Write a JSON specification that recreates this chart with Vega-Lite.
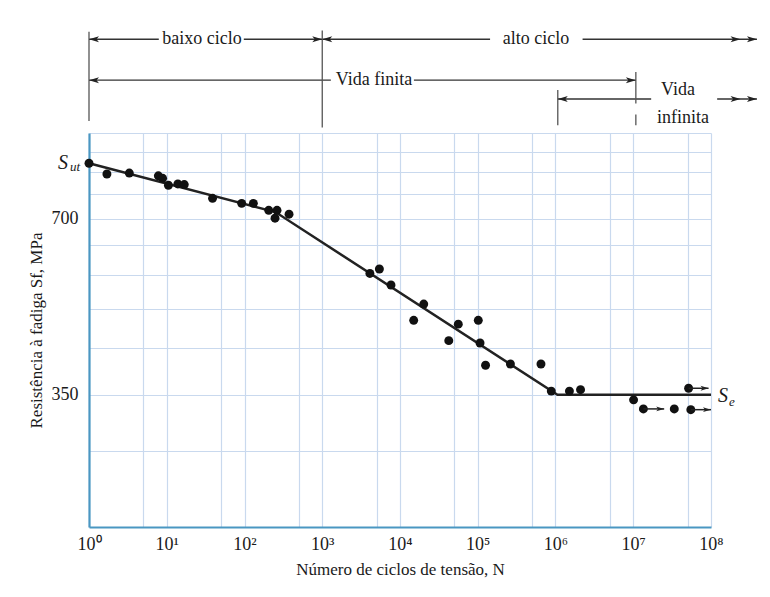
{
  "$schema": "https://vega.github.io/schema/vega-lite/v6.json",
  "padding": {"left": 27, "top": 24, "right": 5, "bottom": 5},
  "background": "white",
  "spacing": 0,
  "config": {"view": {"stroke": null}, "font": "Liberation Serif", "concat": {"spacing": 0}},
  "datasets": {
    "hsegs": [
      {"n1": 1, "n2": 7.9, "lvl": 1.4},
      {"n1": 98, "n2": 1000, "lvl": 1.4},
      {"n1": 1000, "n2": 144000, "lvl": 1.4},
      {"n1": 2230000, "n2": 390000000, "lvl": 1.4},
      {"n1": 1, "n2": 1290, "lvl": 5.15},
      {"n1": 15100, "n2": 10800000, "lvl": 5.15},
      {"n1": 1070000, "n2": 17000000, "lvl": 6.88},
      {"n1": 120000000, "n2": 390000000, "lvl": 6.88}
    ],
    "vsegs": [
      {"n": 1, "v1": 0.7, "v2": 8.9},
      {"n": 1000, "v1": 0.6, "v2": 9.5},
      {"n": 1070000, "v1": 6.06, "v2": 9.3},
      {"n": 10800000, "v1": 4.4, "v2": 7.3},
      {"n": 10800000, "v1": 8.3, "v2": 9.3}
    ],
    "heads": [
      {"n": 1, "lvl": 1.4, "dir": "L"},
      {"n": 1000, "lvl": 1.4, "dir": "L"},
      {"n": 1, "lvl": 5.15, "dir": "L"},
      {"n": 1070000, "lvl": 6.88, "dir": "L"},
      {"n": 1000, "lvl": 1.4, "dir": "R"},
      {"n": 240000000, "lvl": 1.4, "dir": "R"},
      {"n": 390000000, "lvl": 1.4, "dir": "R"},
      {"n": 10800000, "lvl": 5.15, "dir": "R"},
      {"n": 240000000, "lvl": 6.88, "dir": "R"},
      {"n": 390000000, "lvl": 6.88, "dir": "R"}
    ],
    "labels": [
      {"n": 28.4, "lvl": 1.4, "text": "baixo ciclo"},
      {"n": 560000, "lvl": 1.4, "text": "alto ciclo"},
      {"n": 4630, "lvl": 5.15, "text": "Vida finita"},
      {"n": 37700000, "lvl": 6.06, "text": "Vida"},
      {"n": 43700000, "lvl": 8.62, "text": "infinita"}
    ],
    "points": [
      {"N": 1, "S": 870}, {"N": 1.7, "S": 834}, {"N": 3.3, "S": 837}, {"N": 7.8, "S": 828},
      {"N": 8.85, "S": 820}, {"N": 10.5, "S": 798}, {"N": 13.9, "S": 802}, {"N": 16.8, "S": 800},
      {"N": 38.8, "S": 758}, {"N": 92, "S": 743}, {"N": 130, "S": 743}, {"N": 205, "S": 723},
      {"N": 262, "S": 723}, {"N": 247, "S": 701}, {"N": 374, "S": 712}, {"N": 4100, "S": 564},
      {"N": 5430, "S": 574}, {"N": 7660, "S": 539}, {"N": 20200, "S": 500}, {"N": 15000, "S": 469},
      {"N": 56200, "S": 462}, {"N": 101600, "S": 469}, {"N": 42400, "S": 433}, {"N": 107000, "S": 429},
      {"N": 126000, "S": 393}, {"N": 263000, "S": 395}, {"N": 650000, "S": 395}, {"N": 883000, "S": 355},
      {"N": 1510000, "S": 355}, {"N": 2100000, "S": 357}, {"N": 10100000, "S": 343}, {"N": 13500000, "S": 331},
      {"N": 33700000, "S": 331}, {"N": 55000000, "S": 330}, {"N": 51500000, "S": 359}
    ],
    "curve": [
      {"N": 1, "S": 870}, {"N": 250, "S": 718}, {"N": 1060000, "S": 350}, {"N": 100000000, "S": 350}
    ],
    "runout": [
      {"N": 13500000, "N2": 25000000, "S": 331},
      {"N": 55000000, "N2": 100000000, "S": 330},
      {"N": 51500000, "N2": 93000000, "S": 359}
    ],
    "symbols": [
      {"N": 1, "S": 870, "name": "ut"},
      {"N": 100000000, "S": 350, "name": "e"}
    ]
  },
  "vconcat": [
    {
      "width": 622,
      "height": 109,
      "encoding": {
        "x": {"type": "quantitative", "scale": {"type": "log", "domain": [1, 100000000], "nice": false}, "axis": null},
        "y": {"type": "quantitative", "scale": {"domain": [0, 10], "reverse": true, "nice": false, "zero": false}, "axis": null}
      },
      "layer": [
        {
          "data": {"name": "hsegs"},
          "mark": {"type": "rule", "color": "#333", "strokeWidth": 1.3},
          "encoding": {"x": {"field": "n1", "type": "quantitative"}, "x2": {"field": "n2"}, "y": {"field": "lvl", "type": "quantitative"}}
        },
        {
          "data": {"name": "vsegs"},
          "mark": {"type": "rule", "color": "#555", "strokeWidth": 1.3},
          "encoding": {"x": {"field": "n", "type": "quantitative"}, "y": {"field": "v1", "type": "quantitative"}, "y2": {"field": "v2"}}
        },
        {
          "data": {"name": "heads"},
          "transform": [{"filter": "datum.dir == 'L'"}],
          "mark": {"type": "point", "filled": true, "color": "#222", "opacity": 1, "size": 100, "shape": "M 0 0 L 2 -0.6 L 1.5 0 L 2 0.6 Z"},
          "encoding": {"x": {"field": "n", "type": "quantitative"}, "y": {"field": "lvl", "type": "quantitative"}}
        },
        {
          "data": {"name": "heads"},
          "transform": [{"filter": "datum.dir == 'R'"}],
          "mark": {"type": "point", "filled": true, "color": "#222", "opacity": 1, "size": 100, "shape": "M 0 0 L -2 -0.6 L -1.5 0 L -2 0.6 Z"},
          "encoding": {"x": {"field": "n", "type": "quantitative"}, "y": {"field": "lvl", "type": "quantitative"}}
        },
        {
          "data": {"name": "labels"},
          "mark": {"type": "text", "font": "Liberation Serif", "fontSize": 18, "color": "#1a1a1a", "align": "center", "baseline": "middle"},
          "encoding": {"x": {"field": "n", "type": "quantitative"}, "y": {"field": "lvl", "type": "quantitative"}, "text": {"field": "text"}}
        }
      ]
    },
    {
      "width": 622,
      "height": 394,
      "layer": [
        {
          "data": {"name": "curve"},
          "mark": {"type": "line", "color": "#222", "strokeWidth": 2.5},
          "encoding": {
            "x": {
              "field": "N", "type": "quantitative",
              "scale": {"type": "log", "domain": [1, 100000000], "nice": false},
              "axis": {
                "values": [1, 5, 10, 50, 100, 500, 1000, 5000, 10000, 50000, 100000, 500000, 1000000, 5000000, 10000000, 50000000, 100000000],
                "labelExpr": "abs(log(datum.value)/LN10 - round(log(datum.value)/LN10)) < 0.001 ? '10' + ['⁰','¹','²','³','⁴','⁵','⁶','⁷','⁸'][round(log(datum.value)/LN10)] : ''",
                "grid": true, "gridColor": "#c9d9ee", "gridWidth": 1.2,
                "ticks": false, "domainColor": "#4a97c2", "domainWidth": 2.2,
                "labelFont": "Liberation Serif", "labelFontSize": 18, "labelColor": "#1a1a1a", "labelPadding": 8,
                "labelFlush": false, "labelOverlap": false,
                "title": "Número de ciclos de tensão, N", "titleFont": "Liberation Serif", "titleFontSize": 17,
                "titleFontWeight": "normal", "titleColor": "#1a1a1a", "titlePadding": 8
              }
            },
            "y": {
              "field": "S", "type": "quantitative",
              "scale": {"type": "log", "domain": [208, 980], "nice": false, "zero": false},
              "axis": {
                "values": [280, 350, 420, 490, 560, 630, 700, 770, 840, 910, 980],
                "labelExpr": "datum.value == 350 || datum.value == 700 ? '' + datum.value : ''",
                "grid": true, "gridColor": "#c9d9ee", "gridWidth": 1.2,
                "ticks": false, "domainColor": "#4a97c2", "domainWidth": 2.2,
                "labelFont": "Liberation Serif", "labelFontSize": 18, "labelColor": "#1a1a1a", "labelPadding": 11,
                "title": "Resistência à fadiga Sf, MPa", "titleFont": "Liberation Serif", "titleFontSize": 17,
                "titleFontWeight": "normal", "titleColor": "#1a1a1a", "titlePadding": 6
              }
            }
          }
        },
        {
          "data": {"name": "points"},
          "mark": {"type": "circle", "color": "#111", "opacity": 1, "size": 80},
          "encoding": {"x": {"field": "N", "type": "quantitative"}, "y": {"field": "S", "type": "quantitative"}}
        },
        {
          "data": {"name": "runout"},
          "mark": {"type": "rule", "color": "#222", "strokeWidth": 1.5},
          "encoding": {"x": {"field": "N", "type": "quantitative"}, "x2": {"field": "N2"}, "y": {"field": "S", "type": "quantitative"}}
        },
        {
          "data": {"name": "runout"},
          "mark": {"type": "point", "filled": true, "color": "#222", "opacity": 1, "size": 64, "shape": "M 0 0 L -2 -0.6 L -1.5 0 L -2 0.6 Z"},
          "encoding": {"x": {"field": "N2", "type": "quantitative"}, "y": {"field": "S", "type": "quantitative"}}
        },
        {
          "data": {"name": "symbols"},
          "transform": [{"filter": "datum.name == 'ut'"}],
          "layer": [
            {"mark": {"type": "text", "text": "S", "font": "Liberation Serif", "fontStyle": "italic", "fontSize": 20, "color": "#1a1a1a", "dx": -26, "dy": 0, "align": "center", "baseline": "middle"}},
            {"mark": {"type": "text", "text": "ut", "font": "Liberation Serif", "fontStyle": "italic", "fontSize": 13, "color": "#1a1a1a", "dx": -14, "dy": 4, "align": "center", "baseline": "middle"}}
          ],
          "encoding": {"x": {"field": "N", "type": "quantitative"}, "y": {"field": "S", "type": "quantitative"}}
        },
        {
          "data": {"name": "symbols"},
          "transform": [{"filter": "datum.name == 'e'"}],
          "layer": [
            {"mark": {"type": "text", "text": "S", "font": "Liberation Serif", "fontStyle": "italic", "fontSize": 20, "color": "#1a1a1a", "dx": 12, "dy": 1, "align": "center", "baseline": "middle"}},
            {"mark": {"type": "text", "text": "e", "font": "Liberation Serif", "fontStyle": "italic", "fontSize": 13, "color": "#1a1a1a", "dx": 21, "dy": 7, "align": "center", "baseline": "middle"}}
          ],
          "encoding": {"x": {"field": "N", "type": "quantitative"}, "y": {"field": "S", "type": "quantitative"}}
        }
      ]
    }
  ]
}
